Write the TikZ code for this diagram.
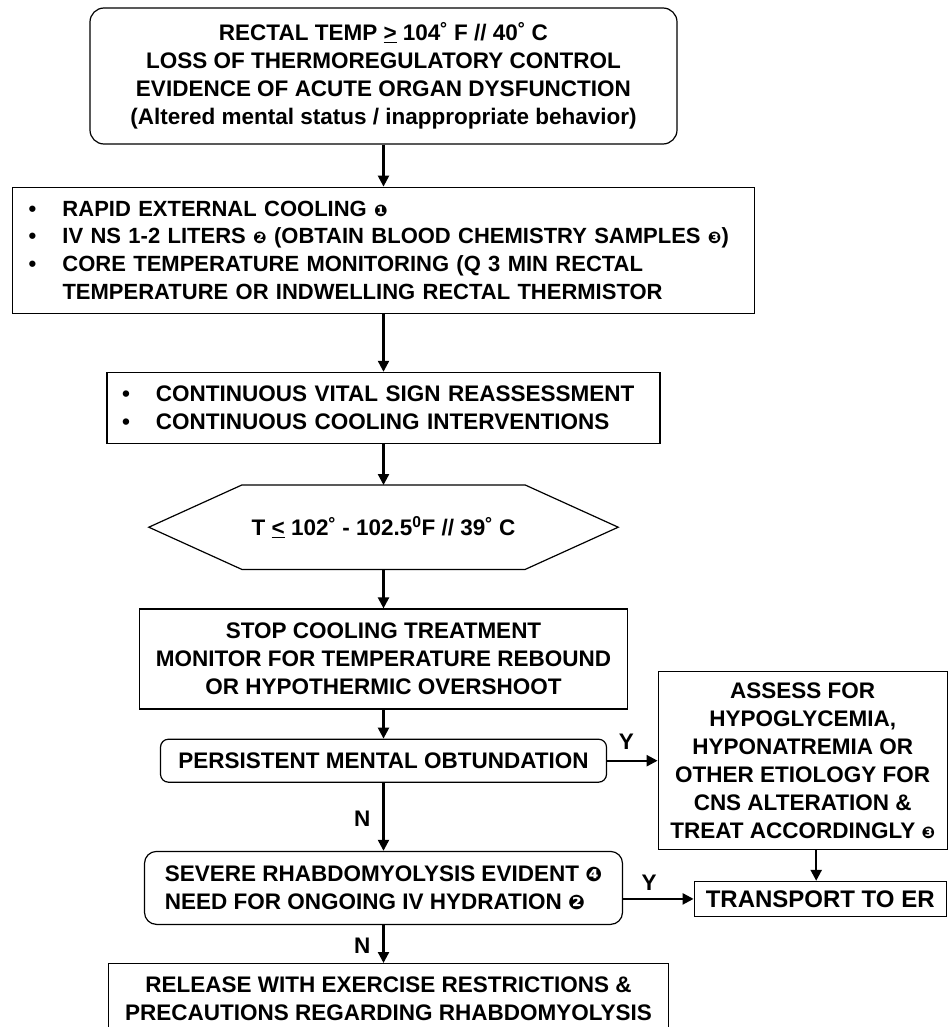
\documentclass[tikz,border=0pt]{standalone}
\usepackage{fontspec}
\setmainfont{Liberation Sans}
\newfontfamily\dingfont{DejaVu Sans}
\usepackage{tikz}
\usetikzlibrary{positioning,arrows.meta}

\newcommand{\itm}{\makebox[34pt][l]{\textbullet}}
\newcommand{\cnum}[2][16]{{\dingfont\fontsize{#1}{#1}\selectfont #2}}

\begin{document}
\begin{tikzpicture}[
  x=1pt, y=1pt,
  font=\fontsize{22.5}{28}\selectfont\bfseries,
  box/.style={draw, line width=1.2pt, align=center, inner sep=0pt},
  rbox/.style={box, rounded corners=14pt},
  lbl/.style={inner sep=1pt},
  arrow/.style={-{Triangle[length=11pt,width=11pt]}, line width=2.3pt}
]
  \useasboundingbox (0,0) rectangle (948,-1027);

  % Entry criteria
  \node[rbox, minimum width=587pt, minimum height=136pt] (q) at (383.5,-76)
    {RECTAL TEMP \underline{>} 104˚ F // 40˚ C\\
     LOSS OF THERMOREGULATORY CONTROL\\
     EVIDENCE OF ACUTE ORGAN DYSFUNCTION\\
     (Altered mental status / inappropriate behavior)};
  \node[box, align=left, font=\fontsize{22}{27.7}\selectfont\bfseries, inner xsep=16pt, text width=710pt,
        minimum width=742pt, minimum height=126pt, below=42pt of q] (cool)
    {\itm RAPID EXTERNAL COOLING \cnum{❶}\\
     \itm IV NS 1-2 LITERS \cnum{❷} (OBTAIN BLOOD CHEMISTRY SAMPLES \cnum{❸})\\
     \itm CORE TEMPERATURE MONITORING (Q 3 MIN RECTAL\\
     \hspace*{34pt}TEMPERATURE OR INDWELLING RECTAL THERMISTOR};
  \node[box, align=left, inner xsep=15pt, text width=523pt, minimum width=553pt, minimum height=71pt,
        below=58pt of cool] (vit)
    {\itm CONTINUOUS VITAL SIGN REASSESSMENT\\
     \itm CONTINUOUS COOLING INTERVENTIONS};

  % Temperature check
  \node[inner sep=0pt, minimum width=469pt, minimum height=84pt, below=41pt of vit] (hex)
    {T \underline{<} 102˚ - 102.5\textsuperscript{0}F // 39˚ C};
  \draw[line width=1.2pt] (hex.west) -- ([xshift=93pt]hex.north west)
    -- ([xshift=-93pt]hex.north east) -- (hex.east)
    -- ([xshift=-93pt]hex.south east) -- ([xshift=93pt]hex.south west) -- cycle;

  \node[box, minimum width=488pt, minimum height=100pt, below=39pt of hex] (stop)
    {STOP COOLING TREATMENT\\
     MONITOR FOR TEMPERATURE REBOUND\\
     OR HYPOTHERMIC OVERSHOOT};
  \node[rbox, rounded corners=8pt, minimum width=446pt, minimum height=43pt, below=29pt of stop] (pmo)
    {PERSISTENT MENTAL OBTUNDATION};
  \node[box, minimum width=289pt, minimum height=178pt, right=50.5pt of pmo] (as)
    {ASSESS FOR\\ HYPOGLYCEMIA,\\ HYPONATREMIA OR\\ OTHER ETIOLOGY FOR\\
     CNS ALTERATION \&\\ TREAT ACCORDINGLY \cnum{❸}};
  \node[rbox, rounded corners=12pt, align=left, minimum width=478pt, minimum height=73pt, below=68pt of pmo] (rh)
    {SEVERE RHABDOMYOLYSIS EVIDENT \cnum[20]{❹}\\
     NEED FOR ONGOING IV HYDRATION \cnum[20]{❷}};
  \node[box, font=\fontsize{24}{28}\selectfont\bfseries, minimum width=252pt, minimum height=35pt,
        right=70.5pt of rh, yshift=-11pt] (tr) {TRANSPORT TO ER};
  \node[box, minimum width=560pt, minimum height=70pt, below=38pt of rh, xshift=5pt] (rel)
    {RELEASE WITH EXERCISE RESTRICTIONS \&\\
     PRECAUTIONS REGARDING RHABDOMYOLYSIS};

  \draw[arrow] (q) -- (cool);
  \draw[arrow] (cool) -- (vit);
  \draw[arrow] (vit) -- (hex);
  \draw[arrow] (hex) -- (stop);
  \draw[arrow] (stop) -- (pmo);
  \draw[arrow] (pmo) -- node[lbl, above=9pt, pos=0.38] {Y} (as);
  \draw[arrow] (pmo) -- node[lbl, left=11pt, pos=0.53] {N} (rh);
  \draw[arrow] ([xshift=13.5pt]as.south) -- ([xshift=13.5pt]as.south |- tr.north);
  \draw[arrow] (rh.east |- tr.west) -- node[lbl, above=6pt, pos=0.37] {Y} (tr.west);
  \draw[arrow] (rh) -- node[lbl, left=11pt, pos=0.55] {N} (rh |- rel.north);
\end{tikzpicture}
\end{document}
